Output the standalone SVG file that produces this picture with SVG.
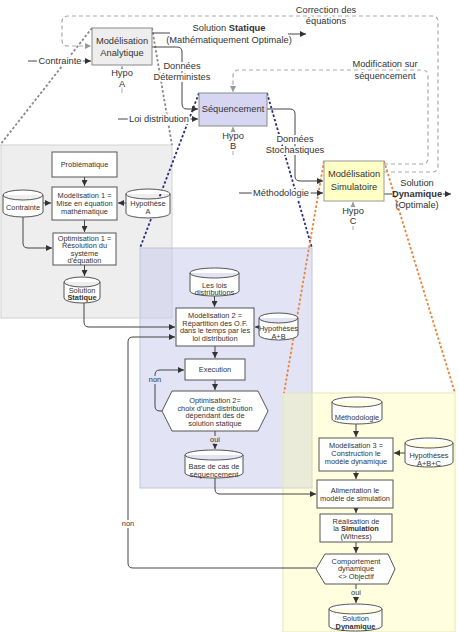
<svg xmlns="http://www.w3.org/2000/svg" width="459" height="632" viewBox="0 0 459 632">
<defs>
<marker id="ar" viewBox="0 0 6 6" refX="6" refY="3" markerWidth="6" markerHeight="6" markerUnits="userSpaceOnUse" orient="auto"><path d="M0,0 L6,3 L0,6 z" fill="#333"/></marker>
<marker id="ag" viewBox="0 0 6 6" refX="6" refY="3" markerWidth="6" markerHeight="6" markerUnits="userSpaceOnUse" orient="auto"><path d="M0,0 L6,3 L0,6 z" fill="#999"/></marker>
<style>
text{font-family:"Liberation Sans",Arial,sans-serif;fill:#333;text-anchor:middle}
.t{font-size:9.3px}
.s{font-size:7.4px}
.b{font-weight:bold}
.h{paint-order:stroke;stroke:#fff;stroke-width:4px;stroke-linejoin:round}
.hl{paint-order:stroke;stroke:#e2e2f5;stroke-width:4px;stroke-linejoin:round}
.hy{paint-order:stroke;stroke:#ffffe0;stroke-width:4px;stroke-linejoin:round}
.c{fill:none;stroke:#444;stroke-width:1;marker-end:url(#ar)}
.cn{fill:none;stroke:#444;stroke-width:1}
.g{fill:none;stroke:#aaa;stroke-width:1.2;stroke-dasharray:4 3;marker-end:url(#ag)}
.hp{fill:none;stroke:#aaa;stroke-width:1;marker-end:url(#ag)}
.box{fill:#fff;stroke:#555;stroke-width:1}
.cyl{fill:#fff;stroke:#555;stroke-width:1}
</style>
</defs>

<!-- panels -->
<g id="panels">
<rect x="1" y="145" width="171" height="173" fill="#eeeeee" stroke="#d2d2d2"/>
<rect x="140" y="248" width="172" height="240" fill="#c8c8ee" fill-opacity="0.5" stroke="#c4c4da"/>
<rect x="283" y="393" width="172" height="239" fill="#ffff99" fill-opacity="0.3" stroke="#e6e6b8"/>
</g>

<!-- projection dashed lines -->
<g id="projections" fill="none" stroke-width="1.8" stroke-dasharray="2.5 2">
<path d="M92,28 L0,145" stroke="#8a8a8a"/>
<path d="M152,28 L172,145" stroke="#8a8a8a"/>
<path d="M199,93 L140,248" stroke="#2c2c80"/>
<path d="M267,93 L312,248" stroke="#2c2c80"/>
<path d="M324,161 L284,393" stroke="#e8843c"/>
<path d="M384,161 L455,393" stroke="#e8843c"/>
</g>

<!-- connectors -->
<g id="connectors">
<path class="g" d="M384,172 H432 Q438,172 438,166 V22 Q438,16 432,16 H68 Q62,16 62,22 V40 Q62,46 68,46 H91"/>
<path class="g" d="M384,164 H422 Q428,164 428,158 V76 Q428,70 422,70 H239 Q233,70 233,76 V92"/>
<text class="t h" x="326" y="13">Correction des</text>
<text class="t h" x="326" y="24">équations</text>
<text class="t h" x="385" y="67">Modification sur</text>
<text class="t h" x="385" y="79">séquencement</text>

<path class="c" d="M28,61 H91"/>
<text class="t h" x="60" y="64.3">Contrainte</text>
<path class="cn" d="M152,33 H170"/>
<text class="t" x="229" y="31"><tspan>Solution </tspan><tspan class="b">Statique</tspan></text>
<text class="t" x="229" y="42.5">(Mathématiquement Optimale)</text>
<path class="c" d="M288,34 H306"/>
<path class="c" d="M152,47 H177 Q182,47 182,52 V104 Q182,109 187,109 H198"/>
<text class="t h" x="182" y="69.3">Données</text>
<text class="t h" x="182" y="80.3">Déterministes</text>
<path class="c" d="M118,119 H198"/>
<text class="t h" x="159" y="122.3">Loi distribution</text>
<path class="c" d="M267,109 H290 Q295,109 295,114 V176 Q295,181 300,181 H323"/>
<text class="t h" x="295" y="142.3">Données</text>
<text class="t h" x="295" y="153.3">Stochastiques</text>
<path class="c" d="M239,193 H323"/>
<text class="t h" x="281" y="196.3">Méthodologie</text>
<path class="cn" d="M384,194 H392"/>
<text class="t" x="417" y="186.3">Solution</text>
<text class="t b" x="417" y="197.3">Dynamique</text>
<text class="t" x="417" y="208.3">(Optimale)</text>
<path class="c" d="M443,194 H451"/>

<path class="hp" d="M122,93 V66"/>
<text class="t h" x="122" y="76.3">Hypo</text>
<text class="t h" x="122" y="87.3">A</text>
<path class="hp" d="M233,155 V127"/>
<text class="t h" x="233" y="139.3">Hypo</text>
<text class="t h" x="233" y="149.3">B</text>
<path class="hp" d="M353,230 V202"/>
<text class="t h" x="353" y="214.3">Hypo</text>
<text class="t h" x="353" y="224.3">C</text>

<path class="c" d="M84.5,177 V186"/>
<path class="c" d="M84.5,220 V232"/>
<path class="c" d="M84.5,265 V276"/>
<path class="c" d="M43,203 H51"/>
<path class="c" d="M126,203 H118"/>
<path class="c" d="M23,217 V243 Q23,248 28,248 H52"/>
<path class="c" d="M84,303 V322 Q84,327 89,327 H175"/>

<path class="c" d="M214.5,296 V307"/>
<path class="c" d="M259,327 H255"/>
<path class="c" d="M215,346 V358"/>
<path class="c" d="M215,380 V390"/>
<path class="c" d="M215,431 V449"/>
<text class="s hl" x="215" y="441.5">oui</text>
<path class="c" d="M162,411 H160 Q155,411 155,406 V375 Q155,370 160,370 H184"/>
<text class="s hl" x="155" y="381.5">non</text>
<path class="c" d="M215,478 V489 Q215,494 220,494 H316"/>

<path class="c" d="M356,424 V437"/>
<path class="c" d="M405,453 H394"/>
<path class="c" d="M356,471 V479"/>
<path class="c" d="M356,508 V513"/>
<path class="c" d="M356,542 V553"/>
<path class="c" d="M356,584 V603"/>
<text class="s hy" x="356" y="594.5">oui</text>
<path class="c" d="M316,568 H133 Q128,568 128,563 V342 Q128,337 133,337 H175"/>
<text class="s h" x="128" y="525.5">non</text>
</g>

<g id="modelisation-analytique">
<rect x="92" y="28" width="60" height="37" fill="#eeeeee" stroke="#888"/>
<text class="t" x="122" y="44.3">Modélisation</text>
<text class="t" x="122" y="55.8">Analytique</text>
</g>
<g id="sequencement">
<rect x="199" y="93" width="68" height="33" fill="#d6d6f2" stroke="#888"/>
<text class="t" x="233" y="112.3">Séquencement</text>
</g>
<g id="modelisation-simulatoire">
<rect x="324" y="161" width="60" height="40" fill="#ffffc6" stroke="#999"/>
<text class="t" x="354" y="177.3">Modélisation</text>
<text class="t" x="354" y="190.3">Simulatoire</text>
</g>

<g id="problematique">
<rect class="box" x="52" y="152" width="65" height="25"/>
<text class="s" x="84.5" y="167.3">Problématique</text>
</g>
<g id="modelisation1">
<rect class="box" x="52" y="187" width="65" height="33"/>
<text class="s" x="84.5" y="198.3">Modélisation 1 =</text>
<text class="s" x="84.5" y="206">Mise en équation</text>
<text class="s" x="84.5" y="213.7">mathématique</text>
</g>
<g id="contrainte">
<path class="cyl" d="M3,195 A20,5 0 0 1 43,195 V212 A20,5 0 0 1 3,212 Z M3,195 A20,5 0 0 0 43,195"/>
<text class="s" x="23" y="210">Contrainte</text>
</g>
<g id="hypothese-a">
<path class="cyl" d="M126,194 A22,5 0 0 1 170,194 V213 A22,5 0 0 1 126,213 Z M126,194 A22,5 0 0 0 170,194"/>
<text class="s" x="148" y="206">Hypothèse</text>
<text class="s" x="148" y="213.5">A</text>
</g>
<g id="optimisation1">
<rect class="box" x="53" y="233" width="63" height="32"/>
<text class="s" x="84.5" y="240.8">Optimisation 1 =</text>
<text class="s" x="84.5" y="248.2">Résolution du</text>
<text class="s" x="84.5" y="255.6">système</text>
<text class="s" x="84.5" y="263">d'équation</text>
</g>
<g id="solution-statique">
<path class="cyl" d="M64,282 A18,5 0 0 1 100,282 V298 A18,5 0 0 1 64,298 Z M64,282 A18,5 0 0 0 100,282"/>
<text class="s" x="82" y="292.5">Solution</text>
<text class="s b" x="82" y="300">Statique</text>
</g>

<g id="lois-distributions">
<path class="cyl" d="M190,273 A24.5,5 0 0 1 239,273 V291 A24.5,5 0 0 1 190,291 Z M190,273 A24.5,5 0 0 0 239,273"/>
<text class="s" x="214.5" y="287.5">Les lois</text>
<text class="s" x="214.5" y="295">distributions</text>
</g>
<g id="modelisation2">
<rect class="box" x="176" y="308" width="78" height="38"/>
<text class="s" x="215" y="318">Modélisation 2 =</text>
<text class="s" x="215" y="325.6">Répartition des O.F.</text>
<text class="s" x="215" y="333.2">dans le temps par les</text>
<text class="s" x="215" y="340.8">loi distribution</text>
</g>
<g id="hypotheses-ab">
<path class="cyl" d="M259,318 A19.5,5 0 0 1 298,318 V335 A19.5,5 0 0 1 259,335 Z M259,318 A19.5,5 0 0 0 298,318"/>
<text class="s" x="278.5" y="331">Hypothèses</text>
<text class="s" x="278.5" y="338.5">A+B</text>
</g>
<g id="execution">
<rect class="box" x="185" y="359" width="60" height="21"/>
<text class="s" x="215" y="372.3">Execution</text>
</g>
<g id="optimisation2">
<polygon class="box" points="172,391 258,391 268,411 258,431 172,431 162,411"/>
<text class="s" x="215" y="403.3">Optimisation 2=</text>
<text class="s" x="215" y="410.7">choix d’une distribution</text>
<text class="s" x="215" y="418.1">dépendant des de</text>
<text class="s" x="215" y="425.5">solution statique</text>
</g>
<g id="base-cas">
<path class="cyl" d="M185,455 A29,5 0 0 1 243,455 V473 A29,5 0 0 1 185,473 Z M185,455 A29,5 0 0 0 243,455"/>
<text class="s" x="214" y="469">Base de cas de</text>
<text class="s" x="214" y="476.5">séquencement</text>
</g>

<g id="methodologie">
<path class="cyl" d="M332,402 A25,5 0 0 1 382,402 V419 A25,5 0 0 1 332,419 Z M332,402 A25,5 0 0 0 382,402"/>
<text class="s" x="357" y="419.5">Méthodologie</text>
</g>
<g id="modelisation3">
<rect class="box" x="319" y="438" width="74" height="33"/>
<text class="s" x="356" y="447.5">Modélisation 3 =</text>
<text class="s" x="356" y="455.5">Construction le</text>
<text class="s" x="356" y="463.5">modèle dynamique</text>
</g>
<g id="hypotheses-abc">
<path class="cyl" d="M405,443 A24,5 0 0 1 453,443 V462 A24,5 0 0 1 405,462 Z M405,443 A24,5 0 0 0 453,443"/>
<text class="s" x="429" y="458">Hypothèses</text>
<text class="s" x="429" y="465.5">A+B+C</text>
</g>
<g id="alimentation">
<rect class="box" x="317" y="480" width="76" height="28"/>
<text class="s" x="355" y="492.5">Alimentation le</text>
<text class="s" x="355" y="500.5">modèle de simulation</text>
</g>
<g id="realisation">
<rect class="box" x="320" y="514" width="72" height="28"/>
<text class="s" x="356" y="523.8">Réalisation de</text>
<text class="s" x="356" y="531.3"><tspan>la </tspan><tspan class="b">Simulation</tspan></text>
<text class="s" x="356" y="538.8">(Witness)</text>
</g>
<g id="comportement">
<polygon class="box" points="325,554 388,554 395,569 388,584 325,584 316,569"/>
<text class="s" x="356" y="563.5">Comportement</text>
<text class="s" x="356" y="571.3">dynamique</text>
<text class="s" x="356" y="579">&lt;&gt; Objectif</text>
</g>
<g id="solution-dynamique">
<path class="cyl" d="M329,609 A26.5,5 0 0 1 382,609 V626 A26.5,5 0 0 1 329,626 Z M329,609 A26.5,5 0 0 0 382,609"/>
<text class="s" x="355.5" y="621">Solution</text>
<text class="s b" x="355.5" y="628.5">Dynamique</text>
</g>
</svg>
